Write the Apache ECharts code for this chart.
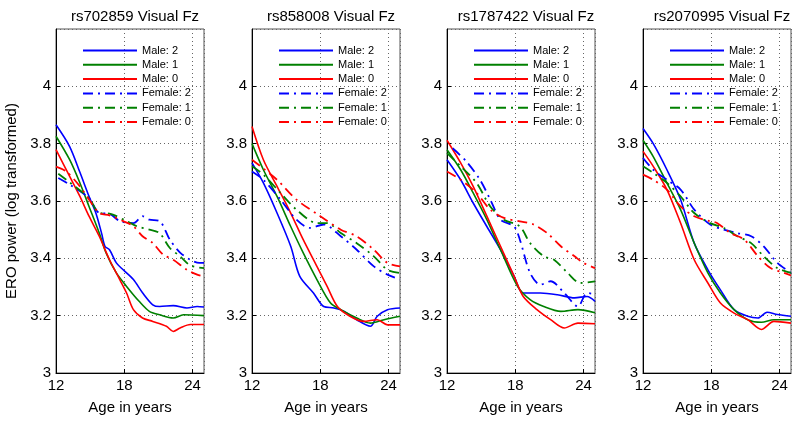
<!DOCTYPE html>
<html>
<head>
<meta charset="utf-8">
<script src="https://cdn.jsdelivr.net/npm/echarts@6/dist/echarts.min.js"></script>
<style>
  html, body { margin: 0; padding: 0; background: #fff; }
  #chart { width: 800px; height: 423px; }
</style>
</head>
<body>
<div id="chart"></div>
<script>
// panel titles (SNP)
const titles = ['rs702859 Visual Fz', 'rs858008 Visual Fz', 'rs1787422 Visual Fz', 'rs2070995 Visual Fz'];
const seriesNames = ['Male: 2', 'Male: 1', 'Male: 0', 'Female: 2', 'Female: 1', 'Female: 0'];
const xTicks = [12, 18, 24];
const yTicks = [3, 3.2, 3.4, 3.6, 3.8, 4];

// [age, ERO power] pairs
// rs702859
const p1Male2 = [[12,3.866],[13.2,3.79],[14.1,3.70],[14.9,3.616],[15.5,3.558],[16,3.488],[16.3,3.442],[16.7,3.43],[17.3,3.384],[17.9,3.36],[18.8,3.326],[19.6,3.28],[20.5,3.238],[21.1,3.232],[22.3,3.235],[23.5,3.227],[24.4,3.232],[25,3.23]];
const p1Male1 = [[12,3.826],[13.2,3.744],[14.1,3.663],[14.9,3.581],[15.8,3.488],[16.4,3.419],[17.3,3.349],[18.2,3.302],[19.3,3.25],[20.2,3.215],[21.1,3.203],[22.3,3.192],[23.2,3.203],[25,3.2]];
const p1Male0 = [[12,3.779],[13.2,3.686],[14.1,3.616],[14.9,3.547],[15.8,3.477],[16.7,3.395],[17.6,3.326],[18.2,3.279],[18.8,3.221],[19.6,3.192],[20.5,3.18],[21.7,3.163],[22.3,3.145],[22.9,3.157],[23.8,3.169],[25,3.169]];
const p1Female2 = [[12.2,3.68],[13.2,3.657],[14.9,3.61],[15.8,3.558],[16.7,3.555],[17.6,3.53],[18.8,3.523],[19.6,3.547],[20.2,3.535],[21.1,3.53],[22,3.465],[22.9,3.42],[23.8,3.395],[24.6,3.384],[25,3.384]];
const p1Female1 = [[12.2,3.695],[13.2,3.665],[14.9,3.61],[15.8,3.558],[16.7,3.556],[18.2,3.53],[19.1,3.512],[20.2,3.5],[21.1,3.488],[22,3.436],[22.9,3.407],[23.8,3.375],[25,3.366]];
const p1Female0 = [[12,3.72],[12.9,3.703],[14.1,3.651],[14.9,3.605],[15.8,3.558],[16.7,3.55],[17.9,3.53],[18.8,3.512],[19.6,3.477],[20.5,3.453],[21.4,3.413],[22.3,3.395],[23.5,3.36],[24.4,3.343],[25,3.337]];
// rs858008
const p2Male2 = [[12,3.733],[13,3.663],[14.2,3.558],[15.4,3.442],[16.2,3.337],[17.4,3.279],[18.3,3.232],[19.2,3.227],[20.1,3.215],[21.2,3.186],[22.4,3.163],[23,3.198],[23.9,3.221],[25,3.227]];
const p2Male1 = [[12,3.8],[13,3.709],[14.2,3.616],[15.4,3.511],[16.5,3.419],[17.7,3.326],[18.9,3.244],[19.8,3.221],[21.2,3.192],[22.4,3.174],[23.6,3.186],[25,3.198]];
const p2Male0 = [[12,3.86],[13,3.744],[14.2,3.651],[15.4,3.558],[16.5,3.465],[17.7,3.372],[18.6,3.302],[19.5,3.232],[20.6,3.198],[21.8,3.18],[23,3.186],[23.9,3.168],[25,3.168]];
const p2Female2 = [[12,3.703],[13,3.674],[14.5,3.605],[15.9,3.535],[17.1,3.506],[18.3,3.518],[19.8,3.477],[21.2,3.43],[22.7,3.372],[23.9,3.343],[25,3.326]];
const p2Female1 = [[12,3.721],[13,3.692],[14.5,3.628],[15.9,3.57],[17.7,3.523],[18.6,3.523],[19.8,3.488],[21.2,3.453],[22.7,3.407],[23.9,3.36],[25,3.349]];
const p2Female0 = [[12,3.744],[14.2,3.674],[15.9,3.605],[18,3.547],[19.8,3.5],[21.2,3.477],[22.7,3.43],[23.9,3.384],[25,3.372]];
// rs1787422
const p3Male2 = [[12,3.744],[13.2,3.674],[14.3,3.593],[15.5,3.511],[16.7,3.43],[17.9,3.337],[18.7,3.279],[20.2,3.279],[21.7,3.273],[23.2,3.262],[24.3,3.267],[25,3.25]];
const p3Male1 = [[12,3.779],[13.2,3.709],[14.3,3.628],[15.5,3.535],[16.7,3.43],[18.2,3.302],[19.3,3.256],[20.5,3.232],[22,3.215],[23.5,3.221],[25,3.21]];
const p3Male0 = [[12,3.812],[13.2,3.733],[14.3,3.651],[15.5,3.547],[16.7,3.442],[17.9,3.337],[18.7,3.267],[19.9,3.221],[21.1,3.186],[22.3,3.157],[23.5,3.174],[25,3.172]];
const p3Female2 = [[12.5,3.784],[13.7,3.738],[14.9,3.674],[15.8,3.605],[16.7,3.535],[17.9,3.511],[18.4,3.465],[19.3,3.349],[20.2,3.308],[21.1,3.32],[22.3,3.279],[23.5,3.232],[24.3,3.279],[25,3.275]];
const p3Female1 = [[12,3.767],[13.2,3.721],[14.6,3.663],[15.8,3.581],[17,3.535],[18.4,3.511],[19.3,3.453],[20.5,3.407],[21.4,3.395],[22.6,3.349],[23.7,3.314],[25,3.32]];
const p3Female0 = [[12,3.703],[13.2,3.674],[14.6,3.628],[15.8,3.57],[17,3.541],[18.4,3.529],[19.6,3.518],[20.8,3.488],[22,3.442],[23.2,3.407],[24,3.384],[25,3.366]];
// rs2070995
const p4Male2 = [[12,3.853],[12.9,3.8],[14.1,3.709],[15.3,3.605],[16.5,3.453],[17.7,3.36],[18.8,3.29],[20,3.221],[21.2,3.198],[22.1,3.192],[22.9,3.212],[23.8,3.204],[25,3.198]];
const p4Male1 = [[12,3.812],[12.9,3.755],[14.1,3.663],[15.3,3.57],[16.5,3.453],[17.7,3.349],[18.8,3.279],[20,3.221],[21.2,3.186],[22.4,3.177],[23.5,3.186],[25,3.186]];
const p4Male0 = [[12,3.773],[12.9,3.721],[14.1,3.64],[15.3,3.523],[16.5,3.395],[17.7,3.314],[18.8,3.244],[20,3.209],[21.2,3.186],[22.4,3.152],[23.5,3.18],[25,3.174]];
const p4Female2 = [[12,3.75],[12.9,3.709],[14.1,3.674],[15.3,3.64],[16.5,3.57],[17.9,3.518],[19.1,3.5],[20.3,3.488],[21.5,3.477],[22.6,3.442],[23.8,3.384],[25,3.349]];
const p4Female1 = [[12,3.721],[12.9,3.698],[14.1,3.663],[15.3,3.616],[16.5,3.558],[17.9,3.523],[19.1,3.506],[20.3,3.477],[21.5,3.453],[22.6,3.407],[23.8,3.366],[25,3.349]];
const p4Female0 = [[12,3.692],[12.9,3.674],[14.1,3.64],[15.3,3.581],[16.5,3.547],[17.9,3.529],[18.5,3.523],[19.7,3.488],[20.9,3.465],[22.1,3.407],[23.2,3.366],[24.4,3.349],[25,3.34]];

const panels = [
  [p1Male2, p1Male1, p1Male0, p1Female2, p1Female1, p1Female0],
  [p2Male2, p2Male1, p2Male0, p2Female2, p2Female1, p2Female0],
  [p3Male2, p3Male1, p3Male0, p3Female2, p3Female1, p3Female0],
  [p4Male2, p4Male1, p4Male0, p4Female2, p4Female1, p4Female0]
];

const colors = ['#0000ff', '#008000', '#ff0000', '#0000ff', '#008000', '#ff0000'];
const font = 'Liberation Sans, Arial, sans-serif';
const gridLeft = [56, 252, 447, 643];
const gridW = 148, gridTop = 29, gridH = 344;

const chart = echarts.init(document.getElementById('chart'));

const option = {
  animation: false,
  title: [], grid: [], xAxis: [], yAxis: [], legend: [], series: []
};

panels.forEach((lines, i) => {
  option.title.push({
    text: titles[i],
    left: gridLeft[i] + gridW / 2, top: 4, textAlign: 'center',
    textStyle: { fontFamily: font, fontSize: 15, fontWeight: 'normal', color: '#000' }
  });
  option.grid.push({
    left: gridLeft[i], top: gridTop, width: gridW, height: gridH,
    show: true, borderColor: '#555', borderWidth: 1, backgroundColor: 'transparent'
  });
  option.xAxis.push({
    type: 'value', gridIndex: i, min: 12, max: 25, interval: 6,
    name: 'Age in years', nameLocation: 'middle', nameGap: 27,
    nameTextStyle: { fontFamily: font, fontSize: 15, color: '#000' },
    axisLine: { lineStyle: { color: '#000' } },
    axisTick: { inside: true, length: 4, lineStyle: { color: '#000' } },
    axisLabel: {
      fontFamily: font, fontSize: 15, color: '#000', margin: 5, showMaxLabel: false,
      formatter: v => (xTicks.indexOf(v) >= 0 ? String(v) : '')
    },
    splitLine: { show: true, lineStyle: { color: '#666', type: [1, 3], width: 1 } }
  });
  option.yAxis.push({
    type: 'value', gridIndex: i, min: 3, max: 4.2, interval: 0.2,
    name: i === 0 ? 'ERO power (log transformed)' : '',
    nameLocation: 'middle', nameGap: 37,
    nameTextStyle: { fontFamily: font, fontSize: 15, color: '#000' },
    axisLine: { lineStyle: { color: '#000' } },
    axisTick: { inside: true, length: 4, lineStyle: { color: '#000' } },
    axisLabel: {
      fontFamily: font, fontSize: 15, color: '#000', margin: 5, showMaxLabel: false,
      formatter: v => {
        const r = Math.round(v * 10) / 10;
        return yTicks.indexOf(r) >= 0 ? String(r) : '';
      }
    },
    splitLine: { show: true, lineStyle: { color: '#666', type: [1, 3], width: 1 } }
  });
  option.legend.push({
    data: seriesNames,
    orient: 'vertical', left: gridLeft[i] + 21, top: 40,
    itemWidth: 54, itemHeight: 12, itemGap: 3.3,
    itemStyle: { opacity: 0 },
    textStyle: { fontFamily: font, fontSize: 11, color: '#000' },
    backgroundColor: 'transparent', selectedMode: false
  });
  lines.forEach((data, k) => {
    option.series.push({
      name: seriesNames[k], type: 'line',
      xAxisIndex: i, yAxisIndex: i,
      data: data, symbol: 'none', smooth: 0.3,
      color: colors[k],
      lineStyle: {
        color: colors[k],
        width: k < 3 ? 1.6 : 1.8,
        type: k < 3 ? 'solid' : [10, 5, 2, 5]
      }
    });
  });
});

chart.setOption(option);
</script>
</body>
</html>
